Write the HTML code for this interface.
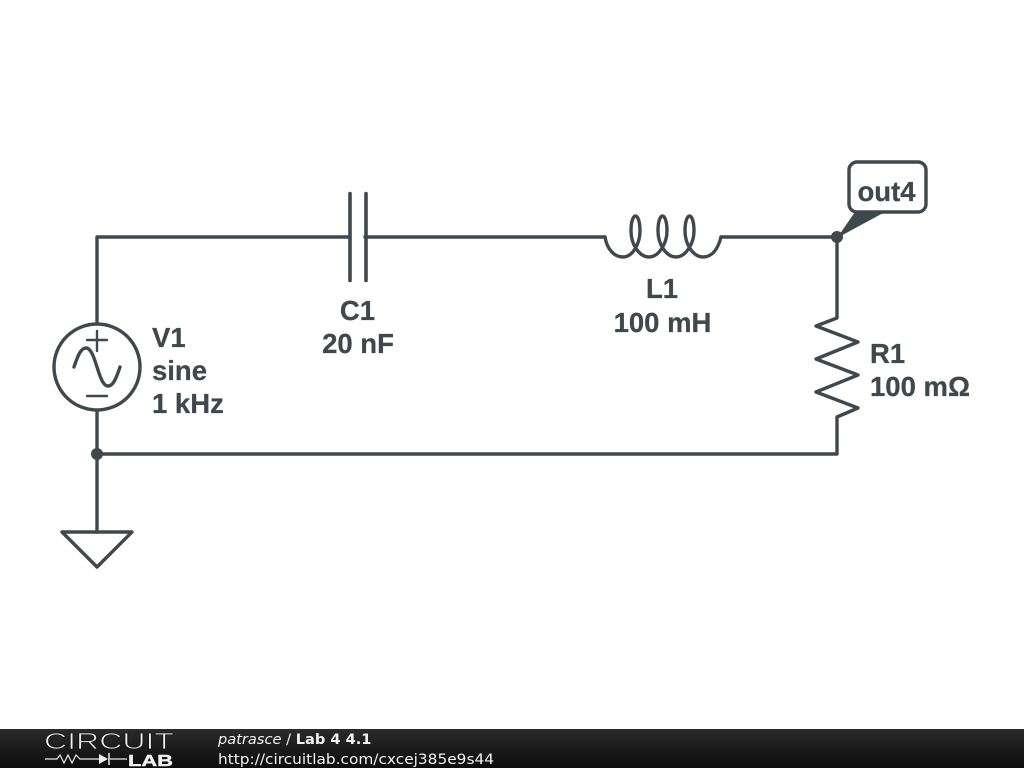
<!DOCTYPE html>
<html><head><meta charset="utf-8"><style>
html,body{margin:0;padding:0;background:#fff;width:1024px;height:768px;overflow:hidden}
svg{display:block}
.l{font:bold 27.5px "Liberation Sans",sans-serif;fill:#3f484d;stroke:#3f484d;stroke-width:.25}
.f{font-family:"DejaVu Sans",sans-serif;font-size:14.6px;fill:#f2f2f2}
</style></head><body>
<svg width="1024" height="768" viewBox="0 0 1024 768" xmlns="http://www.w3.org/2000/svg">
<defs><linearGradient id="g" x1="0" y1="0" x2="0" y2="1"><stop offset="0" stop-color="#2b2b2b"/><stop offset="1" stop-color="#0c0c0c"/></linearGradient></defs>
<g fill="none" stroke="#3f484d" stroke-width="3.4" stroke-linecap="round" stroke-linejoin="round">
<path d="M97 323V237H349M365 237H605M721 237H837V318L816 326L858 342L816 359L858 375L816 392L858 408L837 417V454H97M97 411V532"/>
<path d="M350 193.500V280.500M366 193.500V280.500" stroke-width="3.6"/>
<path d="M605 237C607 249 614 257 623 257C633 257 640 243 640 231C640 222 638 216 635.500 216C633 216 631 222 631 231C631 244 639 257 649 257C659 257 667 243 667 231C667 222 665 216 662.500 216C660 216 658 222 658 231C658 244 666 257 676 257C686 257 694 243 694 231C694 222 692 216 689.500 216C687 216 685 222 685 231C685 244 693 257 703 257C712 257 718 249 721 237"/>
<circle cx="97" cy="367" r="43"/>
<path d="M87 340H107M97 331V351M87 396H107" stroke-width="2.4"/>
<path d="M74 367C78 355 81 348 86 348C96 348 98 386 108 386C113 386 116 379 120 367"/>
<path d="M62 532H132L97 567Z"/>
<rect x="849" y="162" width="77" height="50" rx="8"/>
</g>
<path d="M855 212H885L837 238Z" fill="#3f484d"/>
<circle cx="97" cy="454" r="6" fill="#3f484d"/>
<circle cx="837" cy="237" r="6" fill="#3f484d"/>
<text class="l" x="886.500" y="201" text-anchor="middle">out4</text>
<text class="l" x="357.500" y="320" text-anchor="middle">C1</text>
<text class="l" x="358" y="353" text-anchor="middle">20 nF</text>
<text class="l" x="662" y="298" text-anchor="middle">L1</text>
<text class="l" x="662.500" y="332" text-anchor="middle">100 mH</text>
<text class="l" x="870" y="363">R1</text>
<text class="l" x="870" y="396">100 mΩ</text>
<text class="l" x="152" y="347">V1</text>
<text class="l" x="152" y="380">sine</text>
<text class="l" x="152" y="413">1 kHz</text>
<rect x="0" y="729" width="1024" height="39" fill="url(#g)"/>
<text x="44" y="749" font-family="Liberation Sans,sans-serif" font-size="23" fill="#f0f0f0" stroke="#161616" stroke-width=".8" textLength="130" lengthAdjust="spacingAndGlyphs">CIRCUIT</text>
<path d="M45 759H57L60 755L64 763L68 755L72 763L76 755L80 759H99M110 759H127" fill="none" stroke="#e8e8e8" stroke-width="1.200"/>
<path d="M99 754V764L108 759Z" fill="#f0f0f0"/><path d="M109 753V765" stroke="#f0f0f0" stroke-width="1.500"/>
<text x="128" y="766" font-family="Liberation Sans,sans-serif" font-weight="bold" font-size="16" fill="#f0f0f0" stroke="#f0f0f0" stroke-width=".4" textLength="45" lengthAdjust="spacingAndGlyphs">LAB</text>
<text class="f" x="218" y="744"><tspan font-style="italic">patrasce</tspan> / <tspan font-weight="bold">Lab 4 4.1</tspan></text>
<text class="f" x="218" y="764" textLength="276" lengthAdjust="spacingAndGlyphs">http://circuitlab.com/cxcej385e9s44</text>
</svg>
</body></html>
